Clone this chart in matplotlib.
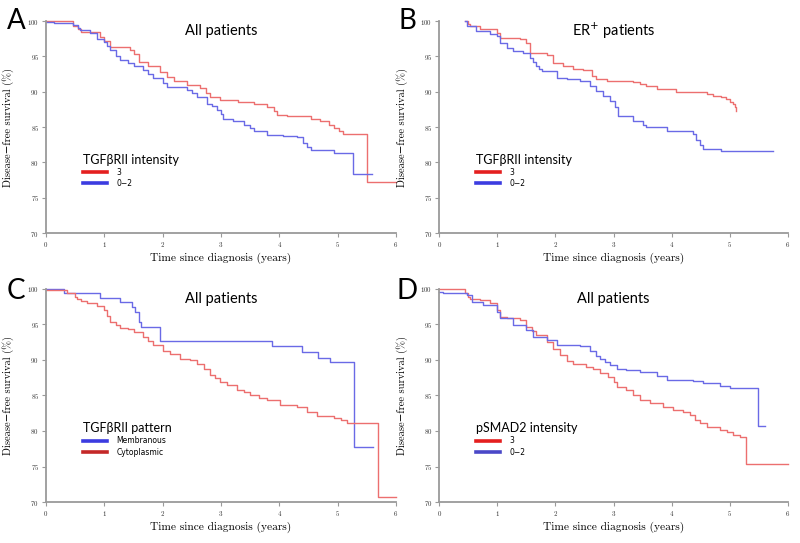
import matplotlib
matplotlib.use('Agg')
import matplotlib.pyplot as plt
from matplotlib.lines import Line2D

plt.rcParams['axes.formatter.use_mathtext'] = True

# ---- panel A: TGFbRII intensity, all patients
a_red_t = [0, 0.47, 0.55, 0.6, 0.93, 1.0, 1.1, 1.44, 1.5, 1.6, 1.75, 1.96, 2.07, 2.2, 2.41, 2.64, 2.75, 2.81,
           2.98, 3.3, 3.56, 3.78, 3.9, 3.96, 4.13, 4.55, 4.7, 4.85, 4.93, 5.02, 5.1, 5.5, 6.0]
a_red_s = [100, 99.3, 98.8, 98.4, 97.8, 97.2, 96.3, 95.9, 95.3, 94.2, 93.6, 92.8, 92.1, 91.5, 90.9, 90.5, 89.8, 89.3,
           88.8, 88.6, 88.3, 87.9, 87.3, 86.7, 86.5, 86.2, 85.8, 85.3, 84.8, 84.4, 84.0, 77.2, 77.2]
a_blue_t = [0, 0.13, 0.47, 0.55, 0.59, 0.76, 0.87, 0.99, 1.05, 1.1, 1.2, 1.27, 1.4, 1.5, 1.67, 1.75, 1.84, 2.0, 2.07,
            2.41, 2.5, 2.59, 2.76, 2.85, 2.93, 3.0, 3.04, 3.2, 3.39, 3.5, 3.56, 3.78, 4.07, 4.3, 4.41, 4.48, 4.55,
            4.93, 5.27, 5.58]
a_blue_s = [99.8, 99.7, 99.5, 99.0, 98.7, 98.3, 97.5, 97.0, 96.5, 95.9, 95.0, 94.5, 94.0, 93.7, 93.0, 92.5, 91.9, 91.2,
            90.6, 90.2, 89.8, 89.3, 88.3, 88.0, 87.4, 86.8, 86.2, 85.8, 85.3, 84.9, 84.5, 83.9, 83.7, 83.6, 82.7,
            82.2, 81.8, 81.3, 78.4, 78.4]

# ---- panel B: TGFbRII intensity, ER+ patients
b_red_t = [0.44, 0.5, 0.53, 0.7, 0.99, 1.04, 1.39, 1.5, 1.56, 1.85, 1.96, 2.13, 2.3, 2.48, 2.62, 2.7, 2.88, 3.34,
           3.45, 3.56, 3.74, 4.08, 4.6, 4.71, 4.85, 4.94, 5.0, 5.05, 5.08, 5.11]
b_red_s = [100, 99.6, 99.3, 98.8, 98.3, 97.6, 97.4, 96.9, 95.5, 95.2, 94.1, 93.7, 93.2, 93.0, 92.2, 91.8, 91.5, 91.4,
           91.1, 90.8, 90.4, 90.0, 89.7, 89.4, 89.2, 89.0, 88.6, 88.2, 87.8, 87.3]
b_blue_t = [0.44, 0.48, 0.64, 0.87, 0.99, 1.04, 1.16, 1.27, 1.44, 1.56, 1.62, 1.67, 1.72, 1.76, 2.02, 2.19, 2.42,
            2.59, 2.7, 2.82, 2.93, 3.02, 3.08, 3.22, 3.34, 3.51, 3.56, 3.91, 4.37, 4.42, 4.48, 4.54, 4.85, 5.74]
b_blue_s = [100, 99.3, 98.6, 98.2, 97.9, 96.9, 96.2, 95.8, 95.5, 94.8, 94.2, 93.7, 93.2, 92.9, 92.0, 91.8, 91.5,
            90.8, 90.1, 89.4, 88.7, 87.8, 86.6, 86.5, 85.8, 85.3, 85.0, 84.5, 84.0, 83.2, 82.5, 81.9, 81.6, 81.6]

# ---- panel C: TGFbRII pattern
c_mem_t = [0, 0.3, 0.93, 1.27, 1.47, 1.53, 1.59, 1.62, 1.95, 3.87, 4.38, 4.67, 4.87, 5.28, 5.61]
c_mem_s = [100, 99.4, 98.7, 98.1, 97.5, 96.8, 95.4, 94.7, 92.7, 91.9, 91.1, 90.3, 89.7, 77.8, 77.8]
c_cyt_t = [0, 0.36, 0.5, 0.53, 0.6, 0.7, 0.87, 0.99, 1.05, 1.1, 1.2, 1.27, 1.4, 1.5, 1.67, 1.75, 1.84, 2.01, 2.13,
           2.3, 2.47, 2.59, 2.7, 2.81, 2.9, 2.98, 3.1, 3.27, 3.4, 3.5, 3.65, 3.78, 4.01, 4.3, 4.47, 4.64, 4.93, 5.05,
           5.16, 5.69, 6.0]
c_cyt_s = [99.8, 99.5, 98.9, 98.6, 98.3, 98.0, 97.6, 97.0, 96.2, 95.4, 94.9, 94.5, 94.3, 94.0, 93.3, 92.7, 92.1, 91.2,
           90.8, 90.2, 90.0, 89.5, 88.8, 87.9, 87.4, 86.9, 86.5, 85.8, 85.5, 85.1, 84.7, 84.3, 83.7, 83.4, 82.7, 82.1,
           81.8, 81.5, 81.1, 70.7, 70.7]

# ---- panel D: pSMAD2 intensity
d_red_t = [0, 0.44, 0.5, 0.53, 0.7, 0.87, 0.99, 1.04, 1.16, 1.39, 1.5, 1.6, 1.67, 1.85, 1.96, 2.07, 2.19, 2.3, 2.53,
           2.65, 2.76, 2.9, 3.0, 3.05, 3.22, 3.34, 3.45, 3.62, 3.85, 4.02, 4.2, 4.31, 4.4, 4.48, 4.6, 4.83, 4.95,
           5.06, 5.17, 5.28, 6.0]
d_red_s = [100, 99.4, 98.9, 98.6, 98.4, 98.0, 97.0, 96.1, 95.9, 95.6, 94.7, 94.1, 93.5, 92.6, 91.6, 90.7, 89.8, 89.5,
           89.0, 88.7, 88.1, 87.6, 86.9, 86.2, 85.8, 85.1, 84.3, 84.0, 83.4, 82.9, 82.7, 82.2, 81.6, 81.1, 80.5,
           80.1, 79.8, 79.4, 79.1, 75.3, 75.3]
d_blue_t = [0, 0.07, 0.47, 0.56, 0.76, 0.99, 1.04, 1.27, 1.5, 1.62, 1.85, 2.02, 2.42, 2.59, 2.7, 2.76, 2.85, 2.93,
            3.05, 3.22, 3.45, 3.74, 3.91, 4.37, 4.54, 4.83, 5.0, 5.48, 5.6]
d_blue_s = [99.6, 99.4, 99.1, 98.2, 97.7, 96.8, 95.9, 94.9, 94.2, 93.3, 92.8, 92.1, 91.9, 91.2, 90.6, 90.1, 89.7,
            89.3, 88.8, 88.6, 88.3, 87.7, 87.2, 87.0, 86.7, 86.4, 86.1, 80.7, 80.7]

x_ticks = [0, 1, 2, 3, 4, 5, 6]
y_ticks = [70, 75, 80, 85, 90, 95, 100]

curve_red = '#ec6f6f'
curve_blue = '#6a6ae6'
serif = ['cmr10', 'DejaVu Serif']
sans = ['Lato', 'DejaVu Sans']

fig = plt.figure(figsize=(8, 5.43), dpi=100)
pos = {'A': [0.0575, 0.5709, 0.4375, 0.3904],
       'B': [0.549, 0.5709, 0.436, 0.3904],
       'C': [0.0575, 0.0755, 0.4375, 0.3923],
       'D': [0.549, 0.0755, 0.436, 0.3923]}
letter_xy = {'A': (0.02, 0.962), 'B': (0.509, 0.962), 'C': (0.02, 0.465), 'D': (0.509, 0.465)}

panels = [
    ('A', 'All patients', 'TGF\u03b2RII intensity',
     [(a_red_t, a_red_s, curve_red, '#e41f1f', '3'), (a_blue_t, a_blue_s, curve_blue, '#3c3ce0', '0\u22122')]),
    ('B', r'ER$^{+}$ patients', 'TGF\u03b2RII intensity',
     [(b_red_t, b_red_s, curve_red, '#e41f1f', '3'), (b_blue_t, b_blue_s, curve_blue, '#3c3ce0', '0\u22122')]),
    ('C', 'All patients', 'TGF\u03b2RII pattern',
     [(c_mem_t, c_mem_s, curve_blue, '#3c3ce0', 'Membranous'), (c_cyt_t, c_cyt_s, curve_red, '#c42828', 'Cytoplasmic')]),
    ('D', 'All patients', 'pSMAD2 intensity',
     [(d_red_t, d_red_s, curve_red, '#e41f1f', '3'), (d_blue_t, d_blue_s, curve_blue, '#4a48c8', '0\u22122')]),
]

for key, title, leg_title, curves in panels:
    ax = fig.add_axes(pos[key])
    handles = []
    for t, s, col, leg_col, lab in curves:
        ax.step(t, s, where='post', color=col, linewidth=1.0, clip_on=False)
        handles.append(Line2D([], [], color=leg_col, linewidth=2.6, label=lab))
    ax.set_xlim(0, 6)
    ax.set_ylim(70, 100)
    ax.set_xticks(x_ticks)
    ax.set_yticks(y_ticks)
    ax.spines['right'].set_visible(False)
    ax.spines['top'].set_visible(False)
    for sp in ['left', 'bottom']:
        ax.spines[sp].set_color('#9a9a9a')
        ax.spines[sp].set_linewidth(1.3)
    ax.tick_params(length=3, width=0.8, color='#9a9a9a', labelsize=5, pad=2, labelcolor='#333333')
    for lbl in ax.get_xticklabels() + ax.get_yticklabels():
        lbl.set_family(serif)
    ax.set_xlabel('Time since diagnosis (years)', family=serif, fontsize=8.2, labelpad=3)
    ax.set_ylabel('Disease\u2212free survival (%)', family=serif, fontsize=7.6, labelpad=9)
    ax.text(0.5, 0.955, title, transform=ax.transAxes, ha='center', va='center',
            family=sans, fontsize=10.5)
    ax.legend(handles=handles, loc='upper left', bbox_to_anchor=(0.09, 0.40), frameon=False,
              title=leg_title, alignment='left', fontsize=5.5, handlelength=3.2,
              labelspacing=0.3, handletextpad=1.2, borderpad=0.2,
              title_fontproperties={'family': sans, 'size': 9})
    fig.text(letter_xy[key][0], letter_xy[key][1], key, ha='center', va='center',
             family=sans, fontsize=20)

fig.savefig('out.png', dpi=100)
